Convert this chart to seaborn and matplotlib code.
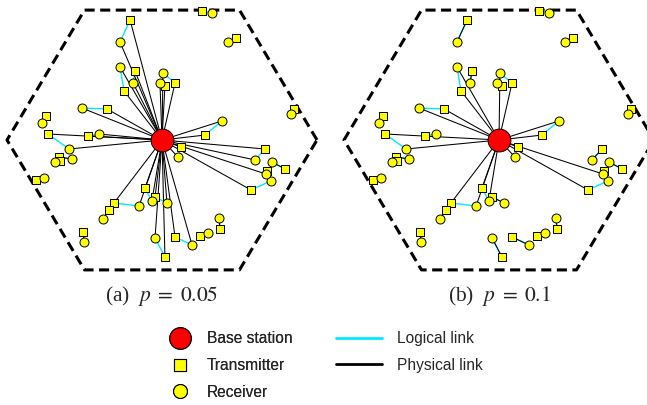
import numpy as np
import pandas as pd
import matplotlib
matplotlib.use("Agg")
import matplotlib.pyplot as plt
from matplotlib.lines import Line2D
from matplotlib.collections import LineCollection
import seaborn as sns

# ---------------- data (cell radius = 1, base station at origin) ----------------
pair_id = list(range(1, 31))
tx_x = [-0.206, -0.174, -0.245, -0.355, -0.748, -0.735, -0.477, -0.665, -0.658, -0.813,
        -0.110, -0.045, -0.310, -0.342, -0.510, 0.019, 0.084, 0.245, 0.374, 0.574,
        0.677, 0.794, 0.665, 0.123, 0.277, 0.852, 0.477, 0.258, 0.084, 0.019]
tx_y = [0.800, 0.460, 0.327, 0.207, 0.160, 0.040, 0.027, -0.113, -0.140, -0.267,
        -0.320, -0.380, -0.420, -0.467, -0.613, -0.780, -0.647, -0.640, -0.593, -0.333,
        -0.207, -0.193, -0.060, -0.047, 0.033, 0.207, 0.680, 0.860, 0.380, 0.360]
rx_x = [-0.271, -0.187, -0.271, -0.516, -0.774, -0.600, -0.406, -0.581, -0.690, -0.761,
        -0.065, 0.032, -0.148, -0.381, -0.503, -0.045, 0.194, 0.297, 0.368, 0.703,
        0.671, 0.710, 0.600, 0.103, 0.387, 0.832, 0.426, 0.323, 0.006, -0.013]
rx_y = [0.653, 0.380, 0.487, 0.213, 0.113, -0.060, 0.040, -0.127, -0.147, -0.253,
        -0.407, -0.420, -0.440, -0.527, -0.680, -0.653, -0.700, -0.620, -0.520, -0.273,
        -0.227, -0.147, -0.133, -0.113, 0.127, 0.173, 0.653, 0.847, 0.447, 0.380]

panel_tags = ["(a)", "(b)"]
panel_p = ["0.05", "0.1"]
# physical links to the base station (pair ids whose transmitter / receiver is linked)
bs_tx = {0: [1, 2, 3, 4, 6, 7, 11, 12, 13, 16, 17, 20, 23, 24, 25, 29, 30],
         1: [3, 4, 6, 11, 13, 20, 24, 25, 29]}
bs_rx = {0: [1, 2, 3, 4, 6, 7, 11, 12, 13, 16, 17, 21, 23, 24, 25, 29, 30],
         1: [3, 4, 6, 11, 13, 21, 24, 25, 29]}
# direct (device-to-device) physical links
d2d = {0: [8, 14, 15, 18, 19, 22],
       1: [1, 2, 8, 12, 14, 15, 16, 17, 18, 19, 22, 23]}

node_labels = ["Base station", "Transmitter", "Receiver"]
link_labels = ["Logical link", "Physical link"]

# ---------------- style ----------------
sns.set_style("white")
plt.rcParams["font.family"] = ["Liberation Sans", "DejaVu Sans"]
plt.rcParams["mathtext.fontset"] = "stix"

tx = pd.DataFrame({"pair": pair_id, "x": tx_x, "y": tx_y})
rx = pd.DataFrame({"pair": pair_id, "x": rx_x, "y": rx_y})
txi = tx.set_index("pair")
rxi = rx.set_index("pair")

CYAN = "#00e8ff"

fig = plt.figure(figsize=(6.47, 4.05), dpi=100)
W, H = 647.0, 405.0
ax_w_px, ax_h_px = 2.08 * 155, 1.8 * 150
centers = [162.0, 499.0]

hex_ang = np.deg2rad(np.arange(0, 361, 60))
hex_x = np.cos(hex_ang)
hex_y = np.sin(hex_ang)

for k, cx in enumerate(centers):
    ax = fig.add_axes([(cx - ax_w_px / 2) / W, (H - 140 - ax_h_px / 2) / H,
                       ax_w_px / W, ax_h_px / H])
    ax.set_xlim(-1.04, 1.04)
    ax.set_ylim(-0.9, 0.9)
    ax.axis("off")

    # cell boundary
    ax.plot(hex_x, hex_y, color="black", lw=2.2, ls=(0, (3.3, 1.8)),
            solid_capstyle="butt", dash_capstyle="butt", zorder=1)

    # logical links (all pairs)
    seg_log = [[(a, b), (c, d)] for a, b, c, d in zip(tx_x, tx_y, rx_x, rx_y)]
    ax.add_collection(LineCollection(seg_log, colors=CYAN, linewidths=1.0, zorder=2))

    # physical links
    seg_phy = [[(0, 0), (txi.loc[p, "x"], txi.loc[p, "y"])] for p in bs_tx[k]]
    seg_phy += [[(0, 0), (rxi.loc[p, "x"], rxi.loc[p, "y"])] for p in bs_rx[k]]
    seg_phy += [[(txi.loc[p, "x"], txi.loc[p, "y"]), (rxi.loc[p, "x"], rxi.loc[p, "y"])]
                for p in d2d[k]]
    ax.add_collection(LineCollection(seg_phy, colors="black", linewidths=0.75, zorder=3))

    # nodes
    sns.scatterplot(data=tx, x="x", y="y", marker="s", s=30, color="#ffff00",
                    edgecolor="black", linewidth=0.7, ax=ax, zorder=4, legend=False)
    sns.scatterplot(data=rx, x="x", y="y", marker="o", s=42, color="#ffff00",
                    edgecolor="black", linewidth=0.7, ax=ax, zorder=5, legend=False)
    sns.scatterplot(x=[0.0], y=[0.0], marker="o", s=270, color="#ff0000",
                    edgecolor="black", linewidth=0.7, ax=ax, zorder=6, legend=False)
    ax.set_xlabel("")
    ax.set_ylabel("")

    fig.text(cx / W, 1 - 296 / H, panel_tags[k] + r"  $p\;=\;" + panel_p[k] + "$",
             ha="center", va="center", fontsize=15.5,
             family=["Liberation Serif", "DejaVu Serif"])

node_handles = [
    Line2D([], [], ls="none", marker="o", ms=15.5, mfc="#ff0000", mec="black", mew=0.8),
    Line2D([], [], ls="none", marker="s", ms=8.5, mfc="#ffff00", mec="black", mew=0.8),
    Line2D([], [], ls="none", marker="o", ms=10, mfc="#ffff00", mec="black", mew=0.8),
]
link_handles = [
    Line2D([], [], color=CYAN, lw=2),
    Line2D([], [], color="black", lw=2),
]
FS = 11.2
leg1 = fig.legend(node_handles, node_labels, loc="center left",
                  bbox_to_anchor=(164 / W, 1 - 365.5 / H), frameon=False, fontsize=FS,
                  handlelength=2.0, handletextpad=0.75, labelspacing=0.75, borderpad=0,
                  borderaxespad=0)
fig.add_artist(leg1)
fig.legend(link_handles, link_labels, loc="center left",
           bbox_to_anchor=(336 / W, 1 - 352 / H), frameon=False, fontsize=FS,
           handlelength=2.95, handletextpad=0.95, labelspacing=0.75, borderpad=0,
           borderaxespad=0)

fig.savefig("out.png", dpi=100)
